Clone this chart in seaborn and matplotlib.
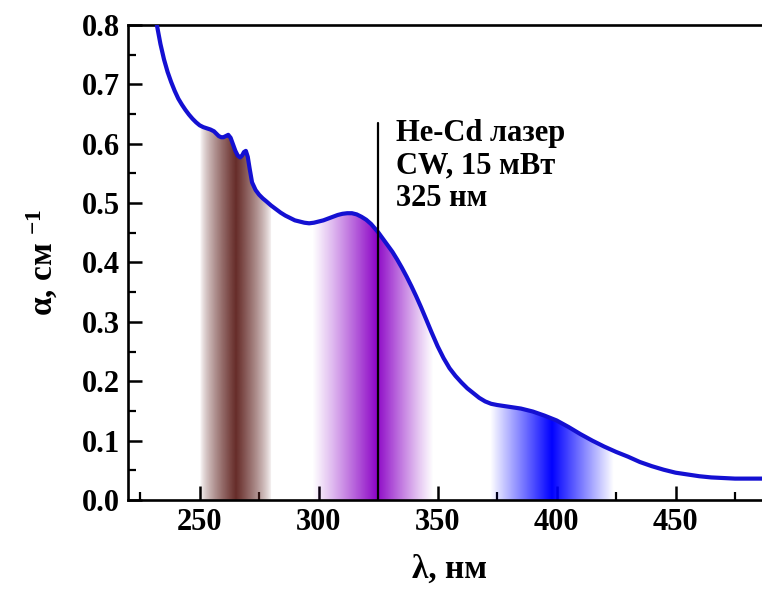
import numpy as np
import matplotlib
matplotlib.use("Agg")
import matplotlib.pyplot as plt
from matplotlib.patches import Polygon
from matplotlib.ticker import MultipleLocator, FormatStrFormatter
import seaborn as sns
import pandas as pd

# Absorption spectrum: wavelength (nm) and absorption coefficient (cm^-1)
wavelength = [231, 232, 233.5, 235, 236.5, 238, 239.5, 241, 242.5, 244, 245.5,
              247, 248.5, 250, 251.5, 253, 254.5, 256, 257, 258, 259, 260, 261,
              262, 263, 264, 265, 266, 267, 267.8, 268.6, 269.4, 270.2, 271,
              272, 273.5, 275, 276.5, 278, 280, 282, 284, 286, 288, 290, 292,
              294, 296, 298, 300, 302, 304, 306, 308, 310, 312, 314, 316, 318,
              320, 322, 325, 327, 329, 331, 333, 335, 337, 339, 341, 343, 345,
              347.5, 350, 352.5, 355, 357.5, 360, 362.5, 365, 367.5, 370, 372.5,
              375, 380, 385, 390, 395, 400, 405, 410, 415, 420, 425, 430, 435,
              440, 445, 450, 455, 460, 465, 470, 475, 480, 485, 490]
alpha = [0.830, 0.800, 0.768, 0.742, 0.721, 0.704, 0.689, 0.676, 0.666, 0.657,
         0.649, 0.642, 0.636, 0.631, 0.628, 0.626, 0.624, 0.621, 0.617, 0.613,
         0.611, 0.611, 0.613, 0.615, 0.610, 0.599, 0.588, 0.580, 0.577, 0.580,
         0.586, 0.588, 0.578, 0.558, 0.535, 0.522, 0.514, 0.508, 0.503, 0.496,
         0.490, 0.484, 0.479, 0.475, 0.471, 0.469, 0.467, 0.466, 0.467, 0.469,
         0.471, 0.474, 0.477, 0.480, 0.482, 0.483, 0.483, 0.481, 0.477, 0.472,
         0.465, 0.451, 0.440, 0.429, 0.418, 0.405, 0.391, 0.376, 0.360, 0.343,
         0.325, 0.306, 0.282, 0.259, 0.239, 0.222, 0.209, 0.198, 0.188, 0.180,
         0.172, 0.166, 0.162, 0.160, 0.157, 0.154, 0.149, 0.142, 0.134, 0.123,
         0.111, 0.100, 0.090, 0.081, 0.073, 0.064, 0.057, 0.051, 0.046, 0.043,
         0.040, 0.038, 0.037, 0.036, 0.036, 0.036, 0.036]

# Coloured emission bands under the curve: (start, peak, end) in nm, RGB colour, falloff
band_ranges = [(250, 265, 280), (297, 324, 348), (372, 398, 424)]
band_colors = [(0.40, 0.17, 0.16), (0.55, 0.02, 0.78), (0.0, 0.0, 1.0)]
band_falloff = [0.75, 1.1, 1.0]

laser_wavelength = 325
laser_top = 0.635
laser_text = "He-Cd лазер\nCW, 15 мВт\n325 нм"

sns.set_style("ticks")
plt.rcParams["font.family"] = ["Liberation Serif", "DejaVu Serif"]
plt.rcParams["font.weight"] = "bold"
plt.rcParams["mathtext.fontset"] = "custom"
plt.rcParams["mathtext.rm"] = "Liberation Serif:bold"
plt.rcParams["mathtext.bf"] = "Liberation Serif:bold"
plt.rcParams["mathtext.default"] = "bf"
for key in ["text.color", "axes.labelcolor", "xtick.color", "ytick.color",
            "axes.edgecolor"]:
    plt.rcParams[key] = "black"

fig = plt.figure(figsize=(7.62, 5.91), dpi=100)
ax = fig.add_axes([0.1684, 0.154, 0.843, 0.8037])

df = pd.DataFrame({"wl": wavelength, "a": alpha})

# gradient bands clipped to the area beneath the spectrum
wl = np.asarray(wavelength)
al = np.asarray(alpha)
for (x0, xp, x1), col, p in zip(band_ranges, band_colors, band_falloff):
    xs = np.linspace(x0, x1, 400)
    t = np.where(xs <= xp, (xs - x0) / (xp - x0), (x1 - xs) / (x1 - xp))
    a = np.clip(t, 0, 1) ** p
    img = np.zeros((1, xs.size, 4))
    img[..., 0] = col[0]
    img[..., 1] = col[1]
    img[..., 2] = col[2]
    img[..., 3] = a
    im = ax.imshow(img, extent=[x0, x1, 0, 0.8], aspect="auto",
                   origin="lower", zorder=1, interpolation="bilinear")
    mask = (wl >= x0) & (wl <= x1)
    top_x = np.concatenate([[x0], wl[mask], [x1]])
    top_y = np.interp(top_x, wl, al)
    verts = [(x0, 0)] + list(zip(top_x, top_y)) + [(x1, 0)]
    poly = Polygon(verts, closed=True, facecolor="none", edgecolor="none")
    ax.add_patch(poly)
    im.set_clip_path(poly)

sns.lineplot(data=df, x="wl", y="a", ax=ax, color="#1410d2", lw=3.0,
             zorder=3, sort=False)

ax.plot([laser_wavelength, laser_wavelength], [0, laser_top],
        color="black", lw=1.6, zorder=4)
ax.text(laser_wavelength + 7.5, laser_top + 0.006, laser_text,
        fontsize=22, fontweight="bold", va="top", ha="left",
        linespacing=1.15, zorder=5, color="black")

ax.set_xlim(220, 490)
ax.set_ylim(0, 0.8)
ax.xaxis.set_major_locator(MultipleLocator(50))
ax.xaxis.set_minor_locator(MultipleLocator(25))
ax.yaxis.set_major_locator(MultipleLocator(0.1))
ax.yaxis.set_minor_locator(MultipleLocator(0.05))
ax.yaxis.set_major_formatter(FormatStrFormatter("%.1f"))
ax.tick_params(which="major", direction="in", length=10, width=1.8,
               labelsize=22, pad=6, top=False, right=False, colors="black")
ax.tick_params(which="minor", direction="in", length=6, width=1.6,
               top=False, right=False, colors="black")
for lab in ax.get_xticklabels() + ax.get_yticklabels():
    lab.set_fontweight("bold")
for side in ["left", "bottom", "top", "right"]:
    ax.spines[side].set_visible(True)
    ax.spines[side].set_linewidth(1.9)
    ax.spines[side].set_color("black")

ax.set_xlabel("λ, нм", fontsize=24, fontweight="bold", labelpad=12)
ax.set_ylabel("α, см $^{-1}$", fontsize=24, fontweight="bold", labelpad=16)

fig.savefig("out.png", dpi=100)
